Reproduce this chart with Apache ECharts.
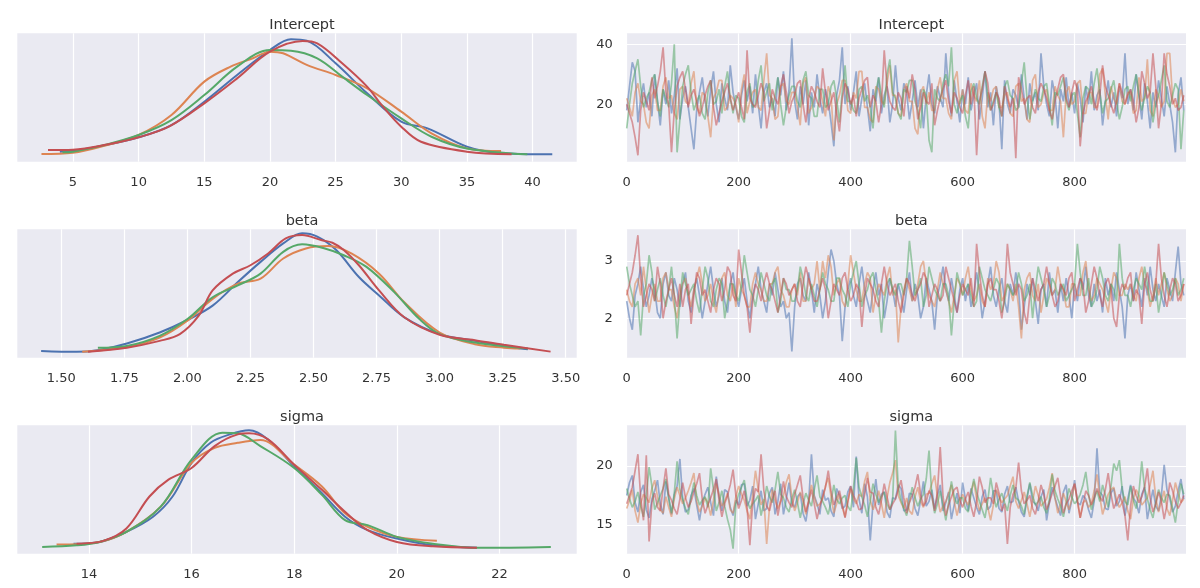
<!DOCTYPE html>
<html>
<head>
<meta charset="utf-8">
<script src="https://cdn.jsdelivr.net/npm/echarts@6/dist/echarts.min.js"></script>
<style>
html, body { margin: 0; background: #fff; }
#main { width: 1200px; height: 588px; }
</style>
</head>
<body>
<div id="main"></div>
<script>
// 链的颜色 (seaborn deep)
let chainColors = ['#4c72b0', '#dd8452', '#55a868', '#c44e52'];

// ---------- KDE 曲线 [参数值, 相对密度(峰值=100)] ----------
let kdeIntercept0 = [[4.0, 3.5], [5, 4.4], [7.4, 9], [10, 15.9], [12.5, 26.4], [15, 46.4], [17.5, 69.3], [20, 90.7], [21.6, 100], [22.8, 98.7], [25, 79.3], [27.4, 53.6], [30, 29.3], [32, 23.6], [35, 7.9], [37.3, 2.7], [41.5, 1.3]];
let kdeIntercept1 = [[2.6, 1.6], [5, 2.7], [7.4, 8.7], [10, 17.9], [12.5, 35], [15, 63.6], [17, 76.4], [18.7, 83.6], [20, 89.3], [21, 87.9], [22.8, 77.9], [25, 69.3], [27.4, 57.9], [30, 37.9], [32.3, 19.3], [35, 6.4], [37.6, 4.1]];
let kdeIntercept2 = [[4.2, 3], [5, 3.6], [7.4, 9.3], [10, 17.9], [12.5, 30.7], [15, 52.1], [17.5, 76.4], [20, 90.7], [21.6, 90.1], [23.6, 83.6], [25.5, 67.9], [27.4, 52.1], [30, 32.1], [32.3, 16.4], [35, 6.4], [39.6, 1.3]];
let kdeIntercept3 = [[3.1, 5], [5, 5.3], [7.7, 10], [10, 15.9], [12.3, 25], [15, 45], [17.5, 66.4], [20, 89.3], [22.5, 98.4], [23.6, 96.4], [25.5, 79.3], [27.4, 59.3], [28.5, 43.6], [30, 25], [31.5, 12.1], [35, 3.6], [38.4, 1.3]];

let kdeBeta0 = [[1.42, 0.8], [1.56, 0], [1.65, 1.6], [1.76, 7.1], [1.89, 16.6], [2.0, 27.3], [2.1, 39.6], [2.2, 59.8], [2.29, 77.1], [2.38, 92.9], [2.455, 101.6], [2.515, 98.7], [2.59, 87.2], [2.68, 64.1], [2.76, 48.3], [2.86, 29.6], [3.0, 15.2], [3.14, 9.4], [3.255, 5.1], [3.35, 2.2]];
let kdeBeta1 = [[1.583, 0.2], [1.76, 4.2], [1.89, 12.3], [2.0, 26.7], [2.1, 45.4], [2.2, 58.4], [2.29, 62.7], [2.38, 80], [2.47, 88.6], [2.56, 90.6], [2.65, 84.3], [2.76, 67], [2.86, 42.5], [3.0, 16.6], [3.14, 6.5], [3.255, 3.6], [3.32, 2.8]];
let kdeBeta2 = [[1.645, 3.6], [1.76, 5.1], [1.89, 13.7], [2.0, 28.1], [2.1, 46.8], [2.2, 56.9], [2.29, 67], [2.38, 85.7], [2.455, 92.1], [2.545, 88.6], [2.62, 82.8], [2.71, 72.8], [2.82, 51.2], [2.92, 28.1], [3.0, 15.2], [3.14, 8], [3.35, 2.8]];
let kdeBeta3 = [[1.606, 0.2], [1.76, 3.6], [1.89, 9.4], [1.97, 15.2], [2.045, 31], [2.1, 52.6], [2.18, 67], [2.25, 74.2], [2.32, 84.3], [2.39, 97.2], [2.455, 100.1], [2.53, 95.8], [2.575, 93.5], [2.62, 87.2], [2.68, 74.2], [2.76, 52.6], [2.86, 29.6], [3.0, 14.6], [3.14, 10], [3.255, 6], [3.44, 0.2]];

let kdeSigma0 = [[13.7, 3.6], [14.21, 5.1], [14.73, 13.7], [15.25, 26.7], [15.63, 44], [16.0, 72.8], [16.37, 90], [16.75, 97.2], [17.12, 100.7], [17.49, 92.9], [18.0, 69.9], [18.54, 46.8], [18.99, 26.7], [19.43, 15.2], [20.0, 8], [20.7, 2.2], [21.56, 0.2]];
let kdeSigma1 = [[13.37, 2.8], [14.21, 5.1], [14.73, 13.7], [15.4, 35.3], [16.0, 72.8], [16.45, 85.7], [16.9, 90], [17.34, 92.3], [18.0, 71.3], [18.54, 52.6], [18.99, 29.6], [19.43, 18], [20.0, 9.4], [20.78, 6]];
let kdeSigma2 = [[13.09, 0.8], [13.76, 2.2], [14.21, 5.1], [14.73, 13.7], [15.4, 35.3], [16.0, 75.6], [16.6, 98.7], [16.9, 98.1], [17.34, 87.2], [18.0, 68.4], [18.54, 45.4], [18.99, 23.8], [19.43, 19.5], [20.0, 9.4], [20.7, 3.6], [21.6, 0], [23.0, 0.8]];
let kdeSigma3 = [[13.76, 3.6], [14.28, 6], [14.73, 16.6], [15.18, 44], [15.55, 58.4], [16.0, 68.4], [16.45, 87.2], [16.9, 97.2], [17.12, 98.1], [17.49, 92.9], [18.0, 71.3], [18.54, 49.7], [18.99, 31], [19.43, 15.2], [20.0, 5.1], [20.7, 1.3], [21.56, 0.2]];

// ---------- 轨迹 (每5步取一个样本, 共200个) ----------
let traceIntercept0 = [
    18, 26, 34, 31, 14, 22, 27, 19, 24, 16, 30, 21, 13, 25, 20, 28, 17, 23, 32, 15,
    22, 26, 19, 12, 5, 18, 24, 29, 21, 16, 25, 31, 20, 14, 27, 22, 18, 33, 24, 19,
    15, 23, 28, 21, 26, 17, 30, 20, 12, 24, 27, 19, 22, 16, 29, 23, 31, 18, 25, 42,
    21, 15, 26, 20, 28, 13, 24, 19, 30, 22, 17, 25, 21, 14, 6, 23, 28, 39, 20, 26,
    18, 24, 31, 16, 22, 27, 19, 11, 25, 21, 29, 17, 23, 26, 14, 20, 33, 22, 18, 27,
    24, 15, 21, 28, 19, 25, 12, 23, 30, 20, 17, 26, 22, 19, 37, 24, 16, 28, 21, 14,
    25, 20, 29, 18, 23, 27, 15, 22, 31, 19, 24, 13, 26, 21, 5, 28, 20, 17, 25, 23,
    19, 30, 22, 15, 27, 21, 24, 18, 37, 26, 20, 16, 28, 23, 12, 25, 21, 29, 19, 24,
    17, 27, 22, 14, 26, 20, 31, 18, 23, 25, 13, 21, 28, 19, 24, 16, 26, 22, 37, 20,
    25, 18, 30, 23, 15, 27, 21, 12, 24, 19, 28, 22, 16, 26, 20, 14, 4, 23, 29, 18];
let traceIntercept1 = [
    22, 19, 16, 24, 27, 21, 20, 14, 12, 23, 25, 18, 18, 26, 29, 22, 23, 17, 15, 25,
    26, 21, 20, 27, 31, 19, 17, 24, 23, 16, 9, 22, 24, 28, 28, 18, 19, 23, 22, 20,
    14, 25, 30, 17, 21, 24, 25, 19, 18, 28, 37, 23, 22, 15, 16, 26, 27, 21, 20, 24,
    24, 19, 13, 27, 29, 17, 19, 22, 26, 25, 21, 16, 26, 23, 8, 20, 23, 28, 28, 18,
    17, 24, 22, 31, 31, 19, 19, 15, 14, 26, 25, 21, 20, 27, 33, 23, 23, 17, 16, 25,
    27, 21, 21, 12, 10, 24, 26, 20, 24, 18, 18, 25, 29, 22, 22, 17, 15, 28, 31, 20,
    25, 18, 17, 27, 23, 21, 28, 16, 12, 24, 21, 25, 26, 19, 19, 23, 24, 17, 16, 26,
    27, 21, 22, 15, 14, 28, 30, 19, 20, 24, 25, 18, 18, 26, 23, 21, 9, 24, 26, 20,
    21, 27, 28, 17, 17, 24, 24, 19, 19, 30, 32, 23, 15, 26, 22, 20, 27, 21, 20, 24,
    24, 17, 18, 29, 21, 22, 35, 18, 16, 25, 23, 19, 21, 37, 37, 22, 19, 20, 25, 21];
let traceIntercept2 = [
    12, 20, 27, 31, 35, 26, 19, 22, 24, 28, 30, 21, 16, 25, 22, 19, 27, 40, 4, 15,
    26, 30, 33, 24, 18, 21, 23, 17, 15, 24, 28, 20, 21, 25, 17, 26, 31, 22, 17, 23,
    22, 16, 14, 24, 27, 19, 20, 28, 33, 21, 24, 27, 18, 23, 29, 20, 13, 19, 23, 26,
    26, 21, 19, 28, 31, 23, 22, 16, 16, 25, 25, 19, 20, 26, 28, 22, 14, 24, 33, 21,
    21, 18, 17, 25, 26, 21, 23, 19, 12, 24, 29, 23, 19, 30, 35, 24, 22, 17, 15, 25,
    24, 28, 28, 21, 18, 12, 25, 23, 8, 4, 25, 22, 21, 27, 30, 26, 39, 20, 17, 21,
    23, 16, 12, 24, 27, 22, 20, 26, 31, 23, 18, 21, 24, 19, 16, 26, 28, 23, 22, 18,
    19, 27, 34, 22, 15, 21, 25, 22, 21, 26, 27, 20, 13, 24, 23, 26, 29, 21, 18, 23,
    24, 17, 9, 22, 26, 25, 20, 27, 32, 24, 17, 21, 22, 25, 28, 21, 15, 19, 25, 26,
    21, 26, 30, 23, 18, 22, 26, 24, 14, 20, 23, 28, 33, 21, 19, 23, 27, 25, 5, 18];
let traceIntercept3 = [
    20, 17, 14, 9, 3, 18, 24, 21, 18, 29, 22, 26, 31, 39, 24, 20, 4, 18, 26, 29,
    31, 25, 19, 23, 25, 21, 16, 19, 23, 26, 28, 19, 13, 17, 21, 24, 27, 22, 18, 21,
    24, 19, 15, 38, 22, 20, 19, 23, 27, 24, 12, 18, 25, 22, 20, 26, 30, 24, 17, 21,
    23, 27, 28, 20, 14, 22, 26, 24, 21, 19, 32, 24, 18, 21, 24, 17, 11, 22, 27, 25,
    20, 23, 16, 22, 25, 28, 29, 19, 23, 21, 14, 20, 38, 26, 21, 19, 18, 24, 22, 16,
    26, 22, 30, 25, 15, 19, 24, 21, 20, 27, 13, 18, 22, 25, 28, 21, 17, 24, 22, 19,
    17, 23, 28, 20, 26, 3, 21, 25, 31, 27, 18, 20, 24, 22, 16, 26, 22, 19, 22, 2,
    29, 25, 20, 22, 23, 19, 17, 24, 27, 25, 22, 18, 15, 21, 25, 29, 30, 22, 19, 24,
    28, 25, 6, 17, 21, 23, 26, 21, 18, 23, 33, 26, 23, 20, 17, 21, 27, 24, 20, 23,
    25, 21, 14, 19, 31, 27, 22, 24, 37, 26, 12, 20, 37, 30, 26, 20, 22, 18, 19, 23];

let traceBeta0 = [
    2.3, 2.0, 1.8, 2.4, 2.6, 2.9, 2.5, 2.2, 2.4, 2.7, 2.5, 2.1, 2.0, 2.6, 2.8, 2.4, 2.3, 2.7, 2.5, 2.2,
    2.6, 2.8, 2.3, 2.1, 2.5, 2.7, 2.4, 2.0, 2.3, 2.6, 2.9, 2.5, 2.2, 2.4, 2.7, 2.3, 2.1, 2.6, 2.8, 2.4,
    2.2, 2.5, 2.7, 2.3, 2.0, 2.4, 2.6, 2.9, 2.5, 2.3, 2.1, 2.6, 2.4, 2.8, 2.5, 2.2, 2.3, 2.0, 2.1, 1.42,
    2.2, 2.6, 2.7, 2.4, 2.3, 2.8, 2.5, 2.1, 2.6, 2.4, 2.0, 2.3, 2.8, 3.2, 3.0, 2.6, 2.4, 1.6, 2.2, 2.5,
    2.7, 2.4, 2.2, 2.6, 2.9, 2.5, 2.3, 2.1, 2.5, 2.8, 2.4, 2.6, 2.0, 2.3, 2.7, 2.5, 2.2, 2.6, 2.4, 2.1,
    2.5, 2.8, 2.3, 2.6, 2.4, 2.0, 2.2, 2.7, 2.5, 2.3, 1.8, 2.4, 2.6, 2.9, 2.5, 2.3, 2.7, 2.4, 2.1, 2.5,
    2.7, 2.3, 2.6, 2.2, 2.4, 2.8, 2.5, 2.0, 2.3, 2.6, 2.9, 2.4, 2.2, 2.5, 2.7, 2.3, 2.1, 2.6, 2.4, 2.8,
    2.5, 1.8, 2.2, 2.6, 2.4, 2.7, 2.3, 1.9, 2.5, 2.6, 2.2, 2.8, 2.4, 2.5, 2.1, 2.6, 2.3, 2.7, 2.4, 2.0,
    2.6, 2.3, 2.7, 2.5, 2.9, 2.4, 2.2, 2.6, 2.3, 2.5, 2.1, 2.7, 2.4, 2.6, 2.3, 2.8, 2.5, 2.2, 1.65, 2.4,
    2.6, 2.3, 2.8, 2.5, 2.2, 2.7, 2.4, 2.9, 2.5, 2.3, 2.6, 2.4, 2.2, 2.7, 2.5, 2.3, 2.8, 3.25, 2.6, 2.4];
let traceBeta1 = [
    2.5, 2.3, 2.2, 2.6, 2.7, 2.4, 2.9, 2.5, 2.1, 2.4, 2.6, 2.3, 2.3, 2.7, 2.8, 2.5, 2.5, 2.2, 2.0, 2.4,
    2.6, 2.7, 2.4, 2.2, 2.5, 2.7, 2.9, 2.6, 2.3, 2.4, 2.6, 2.3, 2.1, 2.5, 2.7, 2.8, 2.4, 2.3, 2.6, 2.2,
    2.7, 2.5, 2.4, 2.2, 2.2, 2.6, 2.8, 2.6, 2.5, 2.3, 2.3, 2.6, 2.6, 2.8, 2.9, 2.5, 2.4, 2.2, 2.2, 2.5,
    2.6, 2.4, 2.8, 2.3, 2.3, 2.7, 2.5, 2.6, 3.0, 2.5, 3.0, 2.7, 3.1, 2.9, 2.4, 2.6, 2.7, 2.3, 2.2, 2.6,
    3.1, 2.8, 2.5, 2.3, 2.3, 2.6, 2.8, 2.7, 2.1, 2.4, 2.6, 2.5, 2.4, 2.7, 2.9, 2.4, 2.5, 1.58, 2.2, 2.5,
    2.7, 2.5, 2.3, 2.4, 2.6, 2.9, 3.0, 2.6, 2.4, 2.3, 2.2, 2.5, 2.8, 2.6, 2.5, 2.3, 2.1, 2.4, 2.7, 2.6,
    2.4, 2.7, 2.9, 2.5, 2.3, 2.4, 2.6, 2.3, 2.2, 2.7, 2.5, 2.6, 3.0, 2.8, 2.3, 2.4, 2.6, 2.5, 2.3, 2.6,
    2.2, 1.65, 2.5, 2.7, 2.8, 2.4, 2.3, 2.6, 2.1, 2.4, 2.7, 2.6, 2.4, 2.5, 2.9, 2.6, 2.5, 2.2, 2.2, 2.6,
    2.6, 2.4, 2.4, 2.8, 3.0, 2.5, 2.3, 2.4, 2.7, 2.6, 2.5, 2.3, 2.1, 2.5, 2.8, 2.7, 2.4, 2.4, 2.6, 2.5,
    2.6, 2.4, 2.3, 2.7, 2.9, 2.6, 2.5, 2.2, 2.4, 2.7, 2.4, 2.6, 2.8, 2.5, 2.3, 2.4, 2.7, 2.6, 2.3, 2.6];
let traceBeta2 = [
    2.9, 2.6, 2.4, 2.2, 2.3, 1.7, 2.4, 2.6, 3.1, 2.8, 2.3, 2.5, 2.7, 2.4, 2.2, 2.5, 2.9, 2.4, 1.65, 2.3,
    2.8, 2.6, 2.4, 2.5, 2.6, 2.3, 2.1, 2.5, 2.9, 2.7, 2.3, 2.2, 2.5, 2.7, 2.6, 2.0, 2.3, 2.6, 2.6, 2.4,
    2.3, 2.6, 3.1, 2.8, 2.5, 2.4, 2.2, 2.5, 2.8, 2.6, 2.4, 2.3, 2.6, 2.7, 2.1, 2.3, 2.7, 2.5, 2.5, 2.3,
    2.3, 2.5, 2.9, 2.7, 2.4, 2.3, 2.6, 2.4, 2.2, 2.5, 2.8, 2.6, 2.5, 2.3, 2.3, 2.7, 2.7, 2.5, 2.4, 2.2,
    2.6, 2.8, 3.0, 2.6, 2.2, 2.4, 2.5, 2.7, 2.8, 2.5, 2.3, 1.75, 2.3, 2.6, 2.7, 2.5, 2.4, 2.6, 2.6, 2.4,
    2.7, 3.35, 2.9, 2.4, 2.5, 2.7, 2.2, 2.4, 2.9, 2.7, 2.5, 2.4, 2.3, 2.6, 2.6, 2.4, 1.7, 2.3, 2.8, 2.6,
    2.4, 2.5, 2.6, 2.4, 2.2, 2.3, 2.9, 2.7, 2.5, 2.4, 2.3, 2.5, 2.7, 2.6, 2.1, 2.3, 2.6, 2.5, 2.4, 2.5,
    2.8, 2.6, 2.3, 2.4, 2.6, 2.0, 2.5, 2.9, 2.7, 2.5, 2.2, 2.4, 2.7, 2.6, 2.4, 2.5, 2.6, 2.3, 2.4, 2.5,
    2.6, 3.3, 2.8, 2.4, 2.4, 2.7, 2.2, 2.3, 2.5, 2.9, 2.7, 2.4, 2.3, 2.6, 2.5, 2.3, 3.3, 2.7, 2.4, 2.4,
    2.2, 2.5, 2.7, 2.6, 2.5, 2.9, 2.6, 2.3, 2.3, 2.6, 2.1, 2.4, 2.8, 2.6, 2.4, 2.5, 2.7, 2.4, 2.5, 2.7];
let traceBeta3 = [
    2.4, 2.6, 2.8, 3.1, 3.45, 2.7, 2.2, 2.4, 2.6, 2.5, 2.3, 2.9, 2.6, 2.0, 2.3, 2.5, 2.7, 2.4, 2.2, 2.6,
    2.2, 2.5, 2.6, 1.9, 2.4, 2.8, 2.7, 2.4, 2.5, 2.3, 2.1, 2.5, 2.7, 2.6, 2.3, 2.5, 2.9, 2.8, 2.4, 2.3,
    3.2, 2.8, 2.4, 2.2, 1.75, 2.3, 2.6, 2.5, 2.3, 2.6, 2.8, 2.6, 2.5, 2.3, 2.1, 2.4, 2.7, 2.6, 2.4, 2.5,
    2.6, 2.3, 2.2, 2.6, 2.9, 2.7, 2.5, 2.3, 2.3, 2.5, 2.7, 2.5, 2.0, 2.3, 2.6, 2.5, 2.4, 2.7, 2.8, 2.5,
    2.3, 2.4, 2.6, 2.5, 1.85, 2.4, 2.7, 2.6, 2.5, 2.3, 2.2, 2.6, 2.9, 2.6, 2.4, 2.5, 2.6, 2.3, 2.1, 2.4,
    2.7, 2.6, 2.4, 2.3, 2.5, 2.6, 2.8, 2.7, 2.2, 2.4, 2.6, 2.5, 2.3, 2.4, 2.9, 2.7, 2.5, 2.3, 2.1, 2.4,
    2.6, 2.5, 2.4, 2.7, 2.2, 3.3, 2.8, 2.4, 2.2, 2.6, 2.7, 2.5, 2.5, 2.3, 2.0, 2.4, 3.3, 2.8, 2.6, 2.4,
    2.6, 2.5, 2.1, 1.9, 2.4, 2.7, 2.5, 2.3, 2.5, 2.6, 2.9, 2.6, 2.4, 2.2, 2.3, 2.6, 2.5, 2.4, 2.7, 2.8,
    2.3, 2.5, 2.7, 2.6, 2.1, 2.3, 2.6, 2.9, 2.7, 2.4, 2.2, 2.6, 2.7, 2.5, 2.0, 1.85, 2.4, 2.6, 2.5, 2.7,
    2.8, 2.3, 2.5, 2.4, 1.9, 2.6, 2.8, 2.5, 2.3, 2.6, 3.3, 2.7, 2.4, 2.2, 2.5, 2.7, 2.6, 2.3, 2.4, 2.6];

let traceSigma0 = [
    17.5, 18.6, 19.2, 16.9, 16.1, 17.8, 18.4, 16.3, 15.6, 17.2, 17.9, 18.8, 16.8, 15.9, 18.7, 17.3, 15.9, 17.6, 18.3, 20.6,
    17.2, 16.1, 16.3, 17.5, 18.1, 16.7, 15.4, 16.9, 17.6, 18.2, 16.9, 15.8, 19.1, 17.4, 16.2, 18.0, 17.8, 16.5, 15.8, 17.1,
    16.7, 18.4, 18.5, 16.6, 17.1, 18.3, 15.5, 16.8, 17.9, 16.2, 16.4, 17.7, 18.2, 15.9, 17.0, 18.5, 15.9, 17.2, 18.6, 16.8,
    16.5, 17.4, 17.7, 16.0, 15.3, 16.9, 21.0, 17.5, 16.8, 15.9, 18.0, 17.1, 17.3, 16.2, 15.7, 18.1, 17.5, 16.4, 16.6, 17.8,
    18.3, 16.5, 20.8, 17.2, 16.0, 18.5, 17.4, 13.7, 16.9, 18.9, 16.7, 17.6, 17.8, 16.1, 15.6, 17.3, 17.2, 18.4, 18.1, 16.2,
    16.3, 17.7, 17.6, 16.4, 15.8, 17.1, 18.7, 16.6, 17.0, 18.0, 16.4, 17.5, 18.4, 16.2, 16.9, 17.8, 15.5, 16.7, 17.7, 16.0,
    18.6, 17.2, 16.2, 18.1, 17.3, 16.5, 15.9, 17.4, 18.0, 16.3, 16.6, 17.9, 17.9, 16.4, 16.1, 17.6, 18.3, 16.9, 17.0, 18.2,
    17.0, 16.1, 15.7, 17.3, 18.5, 17.0, 16.8, 16.2, 17.4, 18.0, 15.4, 16.9, 18.2, 17.3, 16.5, 15.8, 17.8, 18.4, 16.0, 17.1,
    18.8, 16.9, 16.7, 17.5, 17.2, 16.3, 15.6, 17.0, 21.5, 17.8, 17.5, 16.4, 16.3, 17.7, 18.1, 16.6, 17.0, 18.3, 15.8, 17.2,
    18.4, 17.3, 16.9, 16.0, 17.6, 18.2, 15.5, 16.8, 18.0, 16.6, 16.2, 17.5, 20.1, 18.0, 17.3, 16.1, 16.6, 17.9, 18.9, 17.2];
let traceSigma1 = [
    16.4, 17.1, 18.0, 16.2, 15.2, 16.8, 17.6, 17.3, 16.9, 18.1, 18.8, 17.4, 16.3, 16.0, 17.4, 16.5, 15.7, 17.2, 18.2, 17.5,
    16.8, 17.3, 17.9, 18.6, 19.4, 17.0, 16.1, 16.6, 17.3, 16.9, 15.8, 17.1, 18.5, 17.6, 16.6, 17.0, 17.7, 16.3, 16.0, 17.4,
    18.3, 17.6, 17.1, 16.2, 15.5, 17.5, 19.6, 18.0, 16.7, 17.2, 13.4, 16.5, 18.0, 17.1, 16.4, 17.0, 17.5, 18.6, 19.3, 17.3,
    16.2, 16.9, 17.8, 17.0, 15.9, 17.1, 18.4, 17.4, 16.6, 16.8, 17.2, 18.3, 19.0, 17.4, 16.0, 16.8, 17.6, 16.5, 15.7, 17.0,
    18.1, 17.2, 16.8, 17.6, 17.4, 18.7, 19.5, 17.1, 16.3, 16.9, 17.9, 16.8, 15.6, 17.3, 18.6, 19.4, 20.5, 17.5, 16.9, 16.4,
    17.3, 16.2, 15.9, 17.4, 18.2, 17.0, 16.5, 17.6, 17.7, 18.5, 19.2, 17.4, 16.1, 16.6, 17.0, 17.7, 18.4, 17.0, 15.8, 16.9,
    17.6, 17.1, 16.7, 17.8, 18.7, 17.2, 16.2, 16.8, 17.3, 16.5, 15.4, 16.7, 18.0, 17.4, 16.9, 17.2, 17.5, 18.3, 19.1, 17.0,
    16.4, 17.1, 17.8, 16.8, 15.7, 17.0, 18.3, 17.5, 16.6, 16.9, 17.2, 18.2, 19.4, 17.3, 16.0, 16.8, 17.7, 17.0, 16.3, 17.2,
    18.5, 17.0, 15.6, 16.9, 17.1, 16.5, 16.8, 17.9, 19.3, 17.4, 15.9, 16.7, 17.6, 18.0, 18.2, 17.1, 16.5, 16.9, 17.4, 16.2,
    15.5, 17.2, 18.0, 17.5, 16.7, 17.0, 17.3, 18.4, 19.6, 17.3, 16.1, 17.0, 17.9, 16.4, 15.8, 17.1, 18.6, 17.7, 16.9, 17.2];
let traceSigma2 = [
    18.1, 17.2, 16.5, 17.0, 17.8, 16.6, 15.7, 17.4, 19.9, 18.3, 16.3, 16.9, 17.5, 18.1, 18.9, 17.3, 16.0, 17.7, 20.4, 18.0,
    17.2, 16.4, 15.9, 17.3, 18.6, 17.5, 16.7, 17.1, 17.4, 16.5, 19.8, 18.0, 16.2, 16.9, 17.9, 16.6, 15.5, 14.6, 13.0, 16.8,
    17.6, 18.2, 18.8, 17.1, 16.4, 16.8, 17.1, 17.5, 15.8, 16.9, 18.3, 17.4, 16.9, 18.0, 19.5, 17.6, 17.3, 16.5, 16.1, 17.2,
    18.0, 16.9, 15.6, 16.8, 17.7, 17.1, 16.6, 18.0, 19.2, 17.4, 17.0, 16.5, 15.9, 17.0, 18.4, 17.2, 16.8, 17.3, 17.5, 16.6,
    16.2, 18.1, 20.7, 18.2, 17.4, 16.7, 15.7, 17.0, 18.5, 17.6, 16.9, 17.4, 17.8, 16.8, 16.3, 17.1, 23.0, 18.2, 17.1, 16.4,
    15.8, 17.0, 18.2, 17.3, 16.6, 17.2, 17.6, 18.9, 21.3, 17.5, 16.0, 16.8, 17.9, 16.7, 15.4, 16.9, 18.7, 17.4, 16.8, 17.3,
    17.3, 16.4, 16.1, 17.6, 18.9, 17.8, 17.0, 16.3, 15.6, 17.1, 19.0, 17.6, 16.5, 17.2, 17.7, 16.9, 16.2, 17.5, 18.4, 17.3,
    17.1, 16.6, 15.9, 17.4, 18.6, 17.5, 16.7, 17.0, 17.4, 16.5, 16.0, 17.2, 19.3, 17.9, 17.2, 16.6, 15.7, 16.9, 18.1, 17.4,
    16.8, 17.1, 17.6, 18.4, 19.5, 17.6, 16.3, 17.2, 17.9, 17.0, 18.4, 17.5, 16.5, 18.3, 20.2, 19.6, 20.5, 18.0, 17.0, 16.7,
    18.3, 17.1, 16.4, 17.8, 20.4, 18.1, 17.2, 16.3, 15.6, 16.9, 18.0, 17.3, 16.9, 17.6, 17.5, 16.4, 15.2, 17.0, 18.5, 17.6];
let traceSigma3 = [
    16.8, 17.5, 18.2, 19.6, 21.0, 17.3, 15.4, 20.9, 13.6, 16.9, 17.7, 16.5, 16.2, 18.1, 19.8, 17.6, 17.1, 16.4, 15.9, 17.2,
    18.6, 17.3, 16.5, 17.0, 17.8, 18.5, 19.4, 17.2, 16.0, 16.7, 17.3, 18.0, 18.9, 17.1, 15.7, 16.8, 17.5, 18.4, 19.7, 17.5,
    16.4, 17.1, 17.9, 16.5, 13.3, 16.9, 18.1, 17.8, 21.0, 17.9, 16.6, 16.2, 17.2, 17.9, 15.8, 17.1, 18.7, 17.4, 16.9, 16.5,
    17.6, 18.4, 19.2, 17.3, 16.1, 17.0, 18.0, 16.8, 15.5, 16.6, 17.4, 18.2, 19.6, 17.9, 16.7, 17.3, 17.9, 16.8, 15.6, 17.0,
    18.3, 17.5, 17.0, 16.3, 16.4, 17.6, 19.0, 17.8, 17.7, 16.5, 15.9, 17.1, 18.5, 17.4, 16.3, 16.8, 17.2, 18.0, 18.8, 17.3,
    16.0, 16.9, 17.5, 18.2, 19.3, 17.6, 16.6, 17.0, 17.9, 17.5, 16.2, 17.8, 21.6, 17.4, 15.8, 16.7, 17.4, 18.0, 18.2, 17.1,
    16.5, 17.2, 17.8, 16.6, 15.7, 17.0, 19.1, 18.2, 16.9, 17.3, 17.3, 16.8, 18.6, 17.7, 16.2, 16.8, 13.4, 16.5, 17.6, 18.1,
    20.3, 17.9, 16.8, 17.1, 17.5, 16.4, 15.9, 17.0, 18.4, 17.6, 16.3, 16.9, 17.7, 18.3, 19.0, 17.4, 16.0, 16.8, 17.2, 17.9,
    18.5, 17.1, 15.6, 16.7, 17.9, 17.5, 16.7, 17.3, 18.1, 17.4, 17.0, 18.0, 19.4, 17.6, 16.4, 17.0, 17.6, 16.9, 15.8, 13.7,
    16.6, 18.3, 17.5, 16.9, 17.4, 18.2, 19.8, 17.3, 16.1, 16.8, 17.8, 17.0, 15.5, 16.7, 18.6, 17.9, 17.0, 16.4, 16.9, 17.5];

// ---------- 刻度 ----------
let interceptTicks = [5, 10, 15, 20, 25, 30, 35, 40];
let betaTicks = [1.5, 1.75, 2.0, 2.25, 2.5, 2.75, 3.0, 3.25, 3.5];
let sigmaTicks = [14, 16, 18, 20, 22];
let drawTicks = [0, 200, 400, 600, 800];
let interceptTraceTicks = [20, 40];
let betaTraceTicks = [2, 3];
let sigmaTraceTicks = [15, 20];

let panels = [
    {name: 'Intercept', kde: [kdeIntercept0, kdeIntercept1, kdeIntercept2, kdeIntercept3],
        trace: [traceIntercept0, traceIntercept1, traceIntercept2, traceIntercept3],
        xMin: 0.76, xMax: 43.36, xTicks: interceptTicks, digits: 0,
        yMin: 0.87, yMax: 43.67, yTicks: interceptTraceTicks},
    {name: 'beta', kde: [kdeBeta0, kdeBeta1, kdeBeta2, kdeBeta3],
        trace: [traceBeta0, traceBeta1, traceBeta2, traceBeta3],
        xMin: 1.3255, xMax: 3.5436, xTicks: betaTicks, digits: 2,
        yMin: 1.312, yMax: 3.553, yTicks: betaTraceTicks},
    {name: 'sigma', kde: [kdeSigma0, kdeSigma1, kdeSigma2, kdeSigma3],
        trace: [traceSigma0, traceSigma1, traceSigma2, traceSigma3],
        xMin: 12.605, xMax: 23.504, xTicks: sigmaTicks, digits: 0,
        yMin: 12.57, yMax: 23.45, yTicks: sigmaTraceTicks}
];

let font = 'DejaVu Sans';
let textColor = '#333333';
let leftX = 17.3, leftW = 559.4, rightX = 626.7, rightW = 559.3;
let rowTops = [33.3, 229.3, 425.3], rowH = 128.4;

let titles = [], grids = [], xAxes = [], yAxes = [], series = [];

// 白色网格线 (用 markLine 画在固定的刻度值上)
function gridLineSeries(idx, marks) {
    return {
        type: 'line', xAxisIndex: idx, yAxisIndex: idx, data: [], silent: true, z: 1,
        markLine: {
            silent: true, symbol: 'none', animation: false, z: 1,
            label: {show: false},
            lineStyle: {color: '#ffffff', width: 1.2, type: 'solid', opacity: 1},
            emphasis: {disabled: true},
            data: marks
        }
    };
}

panels.forEach(function (p, r) {
    let top = rowTops[r];
    let li = r * 2, ri = r * 2 + 1;

    titles.push({text: p.name, left: leftX + leftW / 2, top: top - 21, textAlign: 'center',
        textStyle: {fontFamily: font, fontSize: 14.5, fontWeight: 'normal', color: textColor}});
    titles.push({text: p.name, left: rightX + rightW / 2, top: top - 21, textAlign: 'center',
        textStyle: {fontFamily: font, fontSize: 14.5, fontWeight: 'normal', color: textColor}});

    grids.push({left: leftX, top: top, width: leftW, height: rowH, show: true,
        backgroundColor: '#eaeaf2', borderWidth: 0});
    grids.push({left: rightX, top: top, width: rightW, height: rowH, show: true,
        backgroundColor: '#eaeaf2', borderWidth: 0});

    let labelStyle = {fontFamily: font, fontSize: 13, color: textColor};

    // 左边: 密度图
    xAxes.push({gridIndex: li, type: 'value', min: p.xMin, max: p.xMax,
        axisLine: {show: false}, axisTick: {show: false}, splitLine: {show: false},
        axisLabel: Object.assign({customValues: p.xTicks, margin: 14,
            formatter: function (v) { return v.toFixed(p.digits); }}, labelStyle)});
    yAxes.push({gridIndex: li, type: 'value', min: -5, max: 105, show: false});

    // 右边: 轨迹图
    xAxes.push({gridIndex: ri, type: 'value', min: 0, max: 999,
        axisLine: {show: false}, axisTick: {show: false}, splitLine: {show: false},
        axisLabel: Object.assign({customValues: drawTicks, margin: 14}, labelStyle)});
    yAxes.push({gridIndex: ri, type: 'value', min: p.yMin, max: p.yMax,
        axisLine: {show: false}, axisTick: {show: false}, splitLine: {show: false},
        axisLabel: Object.assign({customValues: p.yTicks, margin: 14}, labelStyle)});

    series.push(gridLineSeries(li, p.xTicks.map(function (v) { return {xAxis: v}; })));
    series.push(gridLineSeries(ri, drawTicks.map(function (v) { return {xAxis: v}; })
        .concat(p.yTicks.map(function (v) { return {yAxis: v}; }))));

    for (let c = 0; c < 4; c++) {
        series.push({
            type: 'line', xAxisIndex: li, yAxisIndex: li, data: p.kde[c],
            smooth: 0.35, showSymbol: false, silent: true, z: 2,
            lineStyle: {color: chainColors[c], width: 2}
        });
    }
    for (let c = 0; c < 4; c++) {
        series.push({
            type: 'line', xAxisIndex: ri, yAxisIndex: ri,
            data: p.trace[c].map(function (v, i) { return [i * 5, v]; }),
            showSymbol: false, silent: true, z: 2,
            lineStyle: {color: chainColors[c], width: 1.7, opacity: 0.55}
        });
    }
});

let myChart = echarts.init(document.getElementById('main'), null, {renderer: 'canvas'});
myChart.setOption({
    animation: false,
    backgroundColor: '#ffffff',
    title: titles,
    grid: grids,
    xAxis: xAxes,
    yAxis: yAxes,
    series: series
});
</script>
</body>
</html>
